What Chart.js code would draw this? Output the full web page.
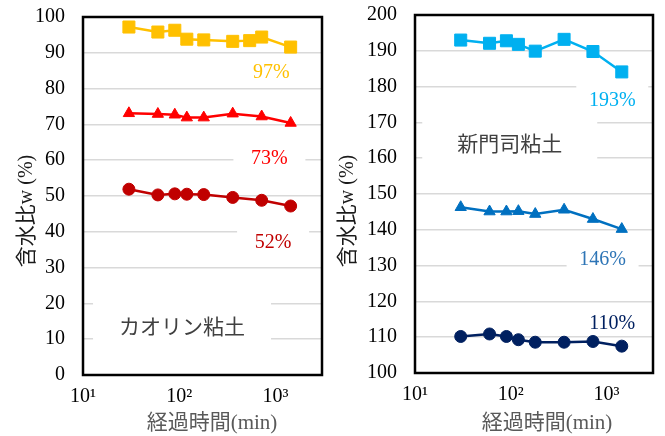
<!DOCTYPE html>
<html>
<head>
<meta charset="utf-8">
<script src="https://cdn.jsdelivr.net/npm/chart.js@4"></script>
<style>
  body { margin: 0; background: #fff; }
  #wrap { position: relative; width: 665px; height: 436px; }
  .panel { position: absolute; top: 0; height: 436px; }
</style>
</head>
<body>
<div id="wrap">
  <div class="panel" style="left:0;width:332px"><canvas id="left"></canvas></div>
  <div class="panel" style="left:332px;width:333px"><canvas id="right"></canvas></div>
</div>
<script>
// elapsed time (min)
const timeAll = [30, 60, 90, 120, 180, 360, 540, 720, 1440];
const timeMain = [30, 60, 90, 120, 180, 360, 720, 1440];

// kaolin clay, water content w (%)
const kaolin97 = [97.2, 95.8, 96.3, 93.8, 93.6, 93.2, 93.4, 94.4, 91.6];
const kaolin73 = [73.1, 72.9, 72.7, 71.9, 71.9, 73.0, 72.2, 70.4];
const kaolin52 = [51.9, 50.3, 50.6, 50.5, 50.4, 49.6, 48.8, 47.2];

// shin-moji clay
const moji193 = [193.0, 192.1, 192.8, 191.8, 189.9, 193.2, 189.8, 184.1];
const moji146 = [146.3, 145.1, 145.1, 145.2, 144.4, 145.6, 143.0, 140.2];
const moji110 = [110.2, 110.9, 110.2, 109.3, 108.6, 108.6, 108.8, 107.5];

const xTickValues = [10, 100, 1000];
const xTickLabels = ['10¹', '10²', '10³'];

const serif = '"Liberation Serif", "Times New Roman", serif';
const cjk = '"Noto Sans CJK JP", sans-serif';

function pts(xs, ys) {
  return ys.map((y, i) => ({ x: xs[i], y: y }));
}

function series(xs, ys, color, style, r) {
  return {
    data: pts(xs, ys),
    borderColor: color,
    backgroundColor: color,
    borderWidth: 2.5,
    pointStyle: style,
    pointRadius: r,
    pointHoverRadius: r,
    pointBorderWidth: 1,
    tension: 0
  };
}

function drawMixed(ctx, parts, cx, cy, rotate) {
  ctx.save();
  ctx.translate(cx, cy);
  if (rotate) ctx.rotate(-Math.PI / 2);
  let total = 0;
  parts.forEach(p => {
    ctx.font = p.font;
    p.w = ctx.measureText(p.text).width;
    total += p.w;
  });
  let x = -total / 2;
  ctx.textAlign = 'left';
  ctx.textBaseline = 'alphabetic';
  parts.forEach(p => {
    ctx.font = p.font;
    ctx.fillStyle = p.color;
    ctx.fillText(p.text, x, p.size * 0.36);
    x += p.w;
  });
  ctx.restore();
}

// labels with white boxes, frame and axis titles
function decor(notes, yTitleX, xTitleX) {
  return {
    id: 'decor',
    beforeDatasetsDraw(chart) {
      const ctx = chart.ctx;
      const sx = chart.scales.x, sy = chart.scales.y;
      notes.forEach(n => {
        const px = sx.getPixelForValue(n.x), py = sy.getPixelForValue(n.y);
        ctx.save();
        ctx.fillStyle = '#fff';
        ctx.fillRect(px - n.w / 2, py - n.h / 2, n.w, n.h);
        ctx.font = n.font;
        ctx.fillStyle = n.color;
        ctx.textAlign = 'center';
        ctx.textBaseline = 'middle';
        ctx.fillText(n.text, px, py + 1);
        ctx.restore();
      });
      const a = chart.chartArea;
      ctx.save();
      ctx.strokeStyle = '#000';
      ctx.lineWidth = 2.5;
      ctx.strokeRect(a.left, a.top, a.right - a.left, a.bottom - a.top);
      ctx.restore();
    },
    afterDraw(chart) {
      const ctx = chart.ctx;
      drawMixed(ctx, [
        { text: '含水比', font: '21px ' + cjk, color: '#1a1a1a', size: 21 },
        { text: 'w (%)', font: '20px ' + serif, color: '#1a1a1a', size: 20 }
      ], yTitleX, 211, true);
      drawMixed(ctx, [
        { text: '経過時間', font: '21px ' + cjk, color: '#595959', size: 21 },
        { text: '(min)', font: '21px ' + serif, color: '#595959', size: 21 }
      ], xTitleX, 421, false);
    }
  };
}

function options(yMin, yMax, pad, xHeight) {
  return {
    responsive: true,
    maintainAspectRatio: false,
    animation: false,
    layout: { padding: pad },
    plugins: { legend: { display: false }, tooltip: { enabled: false } },
    scales: {
      x: {
        type: 'logarithmic',
        min: 10,
        max: 3050,
        afterBuildTicks: s => { s.ticks = xTickValues.map(v => ({ value: v })); },
        afterFit: s => { s.height = xHeight; s.paddingLeft = 0; s.paddingRight = 0; },
        grid: { display: false, drawTicks: false },
        border: { display: false },
        ticks: {
          autoSkip: false,
          maxRotation: 0,
          padding: 10,
          color: '#000',
          font: { family: serif, size: 20 },
          callback: v => xTickLabels[xTickValues.indexOf(v)]
        }
      },
      y: {
        min: yMin,
        max: yMax,
        afterFit: s => { s.width = 83; s.paddingTop = 0; s.paddingBottom = 0; },
        grid: {
          drawTicks: false,
          lineWidth: 1.5,
          color: c => (c.tick && (c.tick.value === yMin || c.tick.value === yMax)) ? 'rgba(0,0,0,0)' : '#d9d9d9'
        },
        border: { display: false },
        ticks: {
          stepSize: 10,
          padding: 18,
          color: '#000',
          font: { family: serif, size: 20 }
        }
      }
    }
  };
}

new Chart(document.getElementById('left'), {
  type: 'line',
  data: {
    datasets: [
      series(timeAll, kaolin97, '#FFC000', 'rect', 8.5),
      series(timeMain, kaolin73, '#FF0000', 'triangle', 6.5),
      series(timeMain, kaolin52, '#C00000', 'circle', 6)
    ]
  },
  options: options(0, 100, { left: 0, top: 17, right: 10, bottom: 0 }, 61),
  plugins: [decor([
    { text: '97%', x: 908, y: 84.6, w: 72, h: 28, color: '#FFC000', font: '20px ' + serif },
    { text: '73%', x: 866, y: 60.6, w: 72, h: 28, color: '#FF0000', font: '20px ' + serif },
    { text: '52%', x: 946, y: 37.2, w: 72, h: 28, color: '#C00000', font: '20px ' + serif },
    { text: 'カオリン粘土', x: 107, y: 14.0, w: 178, h: 50, color: '#404040', font: '21px ' + cjk }
  ], 25, 212)]
});

new Chart(document.getElementById('right'), {
  type: 'line',
  data: {
    datasets: [
      series(timeMain, moji193, '#00B0F0', 'rect', 8.5),
      series(timeMain, moji146, '#0070C0', 'triangle', 6.5),
      series(timeMain, moji110, '#002060', 'circle', 6)
    ]
  },
  options: options(100, 200, { left: 0, top: 15, right: 12, bottom: 0 }, 63),
  plugins: [decor([
    { text: '193%', x: 1146, y: 176.3, w: 72, h: 28, color: '#00B0F0', font: '20px ' + serif },
    { text: '新門司粘土', x: 97.5, y: 164.6, w: 175, h: 48, color: '#404040', font: '21px ' + cjk },
    { text: '146%', x: 908, y: 131.8, w: 72, h: 28, color: '#2E75B6', font: '20px ' + serif },
    { text: '110%', x: 1146, y: 113.9, w: 72, h: 24, color: '#002060', font: '20px ' + serif }
  ], 14, 215)]
});
</script>
</body>
</html>
